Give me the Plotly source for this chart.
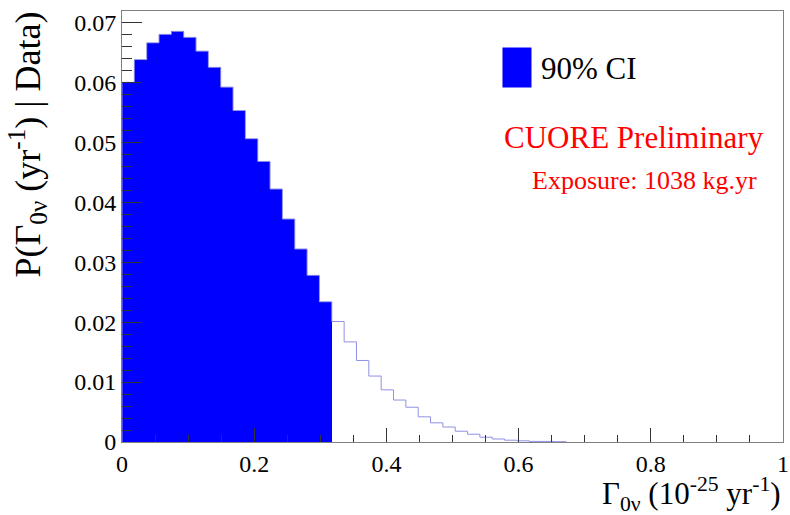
import plotly.graph_objects as go

# Histogram of posterior P(Gamma_0nu | Data)
bin_width = 0.01867
ci_heights = [0.0600, 0.0638, 0.0666, 0.0680, 0.0685, 0.0675, 0.0652, 0.0625, 0.0592,
              0.0553, 0.0506, 0.0468, 0.0422, 0.0372, 0.0322, 0.0278, 0.0234]
tail_heights = [0.0201, 0.0167, 0.0136, 0.0110, 0.0087, 0.0070, 0.0058, 0.0042, 0.0032,
                0.0025, 0.0018, 0.0013, 0.0008, 0.0005, 0.0003, 0.0002, 0.0001, 0.0001, 0.00005]
x_ticks = [0, 0.2, 0.4, 0.6, 0.8, 1]
x_tick_labels = ["0", "0.2", "0.4", "0.6", "0.8", "1"]
y_ticks = [0, 0.01, 0.02, 0.03, 0.04, 0.05, 0.06, 0.07]
y_tick_labels = ["0", "0.01", "0.02", "0.03", "0.04", "0.05", "0.06", "0.07"]

all_heights = ci_heights + tail_heights
n_all = len(all_heights)
edges = [i * bin_width for i in range(n_all + 1)]

FONT = "Liberation Serif"

fig = go.Figure()

# full histogram outline
step_x = [0] + edges[:n_all] + [edges[n_all], edges[n_all]]
step_y = [0] + all_heights + [all_heights[-1], 0]
fig.add_trace(go.Scatter(x=step_x, y=step_y, mode="lines", line_shape="hv",
                         line=dict(color="#9090e6", width=1), showlegend=False,
                         hoverinfo="skip"))

# filled 90% CI region
centers = [(edges[i] + edges[i + 1]) / 2 for i in range(len(ci_heights))]
fig.add_trace(go.Bar(x=centers, y=ci_heights, width=bin_width,
                     marker=dict(color="#0000ff", line=dict(width=0)),
                     showlegend=False))

fig.update_layout(
    width=790, height=515,
    margin=dict(l=122, r=7, t=11, b=73),
    paper_bgcolor="white", plot_bgcolor="white",
    font=dict(family=FONT, color="black"),
    bargap=0,
    xaxis=dict(range=[0, 1], tickvals=x_ticks, ticktext=x_tick_labels,
               ticks="inside", ticklen=14, tickwidth=1, tickcolor="#333",
               minor=dict(dtick=0.05, tick0=0, ticks="inside", ticklen=7, tickcolor="#333"),
               showline=True, linecolor="#808080", linewidth=1, mirror=True,
               showgrid=False, zeroline=False, automargin=False,
               tickfont=dict(size=24, family=FONT, color="black")),
    yaxis=dict(range=[0, 0.0719], tickvals=y_ticks, ticktext=y_tick_labels,
               ticks="inside", ticklen=20, tickwidth=1, tickcolor="#333",
               minor=dict(dtick=0.002, tick0=0, ticks="inside", ticklen=10, tickcolor="#333"),
               showline=True, linecolor="#808080", linewidth=1, mirror=True,
               showgrid=False, zeroline=False, automargin=False,
               tickfont=dict(size=24, family=FONT, color="black")),
)

# legend-like box
fig.add_shape(type="rect", xref="paper", yref="paper",
              x0=0.5756, x1=0.6195, y0=0.8224, y1=0.9152,
              fillcolor="#0000ff", line=dict(width=0))
fig.add_annotation(xref="paper", yref="paper", x=0.6306, y=0.867,
                   text="90% CI", showarrow=False, xanchor="left", yanchor="middle",
                   font=dict(size=31, family=FONT, color="black"))
fig.add_annotation(xref="paper", yref="paper", x=0.5756, y=(442 - 137) / 431,
                   text="CUORE Preliminary", showarrow=False, xanchor="left", yanchor="middle",
                   font=dict(size=31, family=FONT, color="#ff0000"))
fig.add_annotation(xref="paper", yref="paper", x=(530 - 122.5) / 661, y=(442 - 180) / 431,
                   text="Exposure: 1038 kg.yr", showarrow=False, xanchor="left", yanchor="middle",
                   font=dict(size=26, family=FONT, color="#ff0000"))

# axis titles
fig.add_annotation(xref="paper", yref="paper", x=1.0, y=(442 - 494) / 431,
                   text="Γ<sub>0ν</sub> (10<sup>-25</sup> yr<sup>-1</sup>)", showarrow=False,
                   xanchor="right", yanchor="middle",
                   font=dict(size=31, family=FONT, color="black"))
fig.add_annotation(xref="paper", yref="paper", x=(28 - 122.5) / 661, y=(442 - 145) / 431,
                   text="P(Γ<sub>0ν</sub> (yr<sup>-1</sup>) | Data)", showarrow=False,
                   textangle=-90, xanchor="center", yanchor="middle",
                   font=dict(size=36, family=FONT, color="black"))

fig.write_html("out.html", post_script="document.body.style.margin='0px';",
               config={"displayModeBar": False})
